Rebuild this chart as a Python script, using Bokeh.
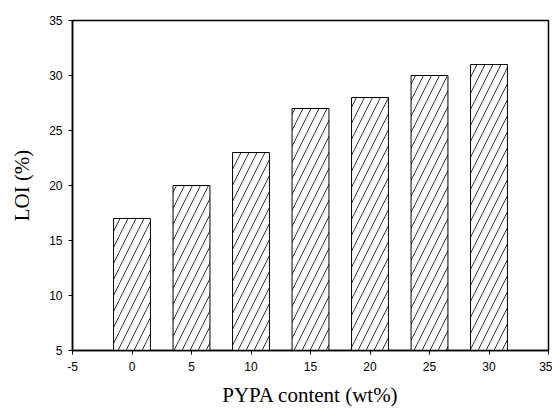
from bokeh.plotting import figure
from bokeh.embed import file_html
from bokeh.resources import INLINE
from bokeh.models import FixedTicker, ColumnDataSource

content = [0, 5, 10, 15, 20, 25, 30]
loi = [17, 20, 23, 27, 28, 30, 31]
x_ticks = [-5, 0, 5, 10, 15, 20, 25, 30, 35]
y_ticks = [5, 10, 15, 20, 25, 30, 35]

src = ColumnDataSource(dict(x=content, top=loi))

p = figure(width=552, height=410, output_backend="svg", toolbar_location=None,
           x_range=(-5, 35), y_range=(5, 35),
           min_border_left=72, min_border_right=4, min_border_top=20, min_border_bottom=60)

p.vbar(x="x", top="top", bottom=5, width=3.1, source=src,
       fill_color="white", line_color="black", line_width=1,
       hatch_pattern="/", hatch_color="black", hatch_weight=0.8, hatch_scale=16)

p.grid.visible = False
p.outline_line_color = "black"
p.outline_line_width = 1.5

for ax in (p.xaxis[0], p.yaxis[0]):
    ax.axis_line_width = 1.5
    ax.axis_line_color = "black"
    ax.major_tick_line_color = "black"
    ax.major_tick_out = 4
    ax.major_tick_in = 0
    ax.minor_tick_line_color = None
    ax.major_label_text_font = "Liberation Sans"
    ax.major_label_text_font_size = "12px"
    ax.major_label_text_color = "black"
    ax.axis_label_text_font = "Liberation Serif"
    ax.axis_label_text_font_style = "normal"
    ax.axis_label_text_font_size = "21px"
    ax.axis_label_text_color = "black"

p.xaxis.ticker = FixedTicker(ticks=x_ticks)
p.yaxis.ticker = FixedTicker(ticks=y_ticks)
p.xaxis.major_label_overrides = {t: str(t) for t in x_ticks}
p.xaxis.axis_label = "PYPA content (wt%)"
p.yaxis.axis_label = "LOI (%)"
p.xaxis.major_label_standoff = 7
p.xaxis.axis_label_standoff = 9
p.yaxis.major_label_standoff = 6
p.yaxis.axis_label_standoff = 12

open("out.html", "w").write(file_html(p, INLINE))
